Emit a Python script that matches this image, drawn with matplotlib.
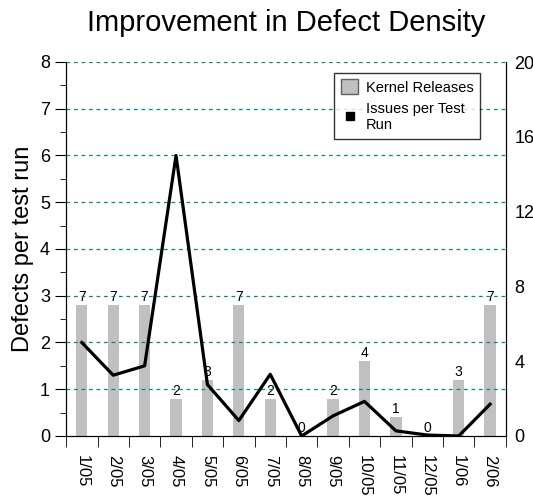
import numpy as np
import matplotlib.pyplot as plt
from matplotlib.lines import Line2D
from matplotlib.patches import Patch
from matplotlib.ticker import MultipleLocator, FixedLocator

plt.rcParams['font.family'] = ['Liberation Sans', 'DejaVu Sans']

months = ['1/05', '2/05', '3/05', '4/05', '5/05', '6/05', '7/05',
          '8/05', '9/05', '10/05', '11/05', '12/05', '1/06', '2/06']
releases = [7, 7, 7, 2, 3, 7, 2, 0, 2, 4, 1, 0, 3, 7]
issues = [2.0, 1.3, 1.5, 6.0, 1.1, 0.33, 1.32, 0.0, 0.43, 0.74, 0.11, 0.02, 0.0, 0.68]

x = np.arange(len(months))

fig = plt.figure(figsize=(5.33, 4.96), dpi=100)
ax = fig.add_axes([0.124, 0.121, 0.825, 0.754])
ax2 = ax.twinx()

# bars on the right axis (kernel releases)
ax2.bar(x, releases, width=0.36, color='#c0c0c0', zorder=2)
for xi, v in zip(x, releases):
    ax2.text(xi, v + 0.05, str(v), ha='center', va='bottom', fontsize=10)
ax2.set_ylim(0, 20)
ax2.set_yticks([0, 4, 8, 12, 16, 20])
ax2.tick_params(axis='y', labelsize=13, length=0, pad=6)

# line on the left axis
ax.set_zorder(ax2.get_zorder() + 1)
ax.patch.set_visible(False)
ax.plot(x, issues, color='black', lw=2.3, zorder=3)
ax.set_ylim(0, 8)
ax.set_xlim(-0.5, len(months) - 0.5)
ax.yaxis.set_major_locator(MultipleLocator(1))
ax.yaxis.set_minor_locator(MultipleLocator(0.5))
ax.tick_params(axis='y', which='major', labelsize=13, length=8)
ax.tick_params(axis='y', which='minor', length=4)
for yv in range(1, 9):
    ax.axhline(yv, color='#008b8b', ls=(0, (3, 3)), lw=0.9, zorder=0)
ax.set_ylabel('Defects per test run', fontsize=17, labelpad=4)

ax.set_xticks(x)
ax.set_xticklabels(months, rotation=-90, fontsize=12)
ax.xaxis.set_minor_locator(FixedLocator(np.arange(-0.5, len(months), 1.0)))
ax.tick_params(axis='x', which='major', length=0, pad=14)
ax.tick_params(axis='x', which='minor', length=8)

for a in (ax, ax2):
    a.spines['top'].set_visible(False)

ax.set_title('Improvement in Defect Density', fontsize=21, pad=22)

handles = [Patch(facecolor='#c0c0c0', edgecolor='#606060', label='Kernel Releases'),
           Line2D([], [], marker='s', color='black', ls='none', markersize=6,
                  label='Issues per Test\nRun')]
leg = ax.legend(handles=handles, loc='upper right', bbox_to_anchor=(0.941, 0.971),
                borderaxespad=0, fontsize=10.5, frameon=True, fancybox=False,
                edgecolor='black', handlelength=1.2, handleheight=1.2,
                handletextpad=0.5, borderpad=0.45, labelspacing=0.5)
leg.get_frame().set_linewidth(1.0)

fig.savefig('out.png', dpi=100)
